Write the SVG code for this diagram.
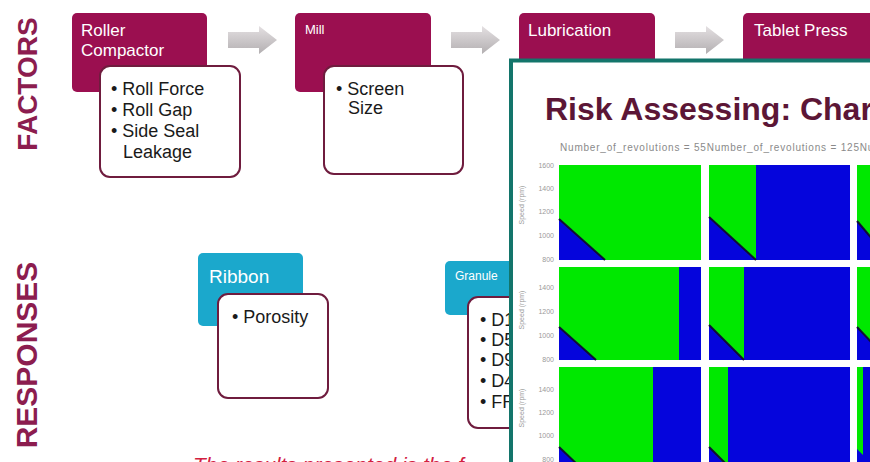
<svg xmlns="http://www.w3.org/2000/svg" width="870" height="462" viewBox="0 0 870 462">
<defs>
<style>
.side{font-family:"Liberation Sans",Arial,sans-serif;font-weight:bold;fill:#8c1d4f;text-anchor:middle;}
.step{fill:#9b0f50;}
.resp{fill:#1ba8cc;}
.head{font-family:"Liberation Sans",Arial,sans-serif;fill:#ffffff;}
.card{fill:#ffffff;stroke:#6f1c3e;stroke-width:2;}
.item{font-family:"Liberation Sans",Arial,sans-serif;font-size:18px;fill:#1a1a1a;}
.flow{fill:url(#flowGrad);}
.hi{fill:#00e800;}
.lo{fill:#0505dc;}
.edge{stroke:#101030;stroke-width:2;fill:none;}
.tick{font-family:"Liberation Sans",Arial,sans-serif;font-size:7px;fill:#9a9a9a;text-anchor:end;}
.axis{font-family:"Liberation Sans",Arial,sans-serif;font-size:7px;fill:#9a9a9a;text-anchor:middle;}
</style>
<linearGradient id="flowGrad" x1="0" y1="0" x2="0" y2="1">
<stop offset="0" stop-color="#e4e0e2"/>
<stop offset="1" stop-color="#b3afb1"/>
</linearGradient>
<clipPath id="insetClip"><rect x="513" y="62" width="360" height="402"/></clipPath>
</defs>

<rect width="870" height="462" fill="#ffffff"/>

<!-- row headings -->
<text class="side" font-size="28" transform="translate(37,84) rotate(-90)">FACTORS</text>
<text class="side" font-size="30" transform="translate(37,355) rotate(-90)">RESPONSES</text>

<!-- process flow arrows -->
<g id="connectors">
<polygon class="flow" points="228,32 259,32 259,26 277,40 259,54 259,48 228,48"/>
<polygon class="flow" points="228,32 259,32 259,26 277,40 259,54 259,48 228,48" transform="translate(223,0)"/>
<polygon class="flow" points="228,32 259,32 259,26 277,40 259,54 259,48 228,48" transform="translate(447,0)"/>
</g>

<!-- process steps -->
<g id="roller-compactor">
<rect class="step" x="72" y="13" width="135" height="79" rx="5"/>
<text class="head" font-size="17" x="81" y="36">Roller</text>
<text class="head" font-size="17" x="81" y="56">Compactor</text>
<rect class="card" x="100" y="66" width="140" height="111" rx="10"/>
<text class="item" x="111" y="95">• Roll Force</text>
<text class="item" x="111" y="116">• Roll Gap</text>
<text class="item" x="111" y="137">• Side Seal</text>
<text class="item" x="123" y="158">Leakage</text>
</g>

<g id="mill">
<rect class="step" x="295" y="13" width="136" height="79" rx="5"/>
<text class="head" font-size="13" x="305" y="34">Mill</text>
<rect class="card" x="324" y="66" width="139" height="108" rx="10"/>
<text class="item" x="336" y="95">• Screen</text>
<text class="item" x="348" y="114">Size</text>
</g>

<g id="lubrication">
<rect class="step" x="519" y="13" width="136" height="79" rx="5"/>
<text class="head" font-size="17" x="528" y="36">Lubrication</text>
</g>

<g id="tablet-press">
<rect class="step" x="743" y="13" width="140" height="79" rx="5"/>
<text class="head" font-size="17" x="754" y="36">Tablet Press</text>
</g>

<!-- responses -->
<g id="ribbon">
<rect class="resp" x="198" y="253" width="105" height="73" rx="5"/>
<text class="head" font-size="19" x="209" y="283">Ribbon</text>
<rect class="card" x="218" y="294" width="110" height="104" rx="10"/>
<text class="item" x="232" y="323">• Porosity</text>
</g>

<g id="granule">
<rect class="resp" x="445" y="261" width="90" height="54" rx="5"/>
<text class="head" font-size="12" x="455" y="280">Granule</text>
<rect class="card" x="468" y="297" width="110" height="131" rx="10"/>
<text class="item" x="480" y="326">• D10</text>
<text class="item" x="480" y="346">• D50</text>
<text class="item" x="480" y="366">• D90</text>
<text class="item" x="480" y="387">• D43</text>
<text class="item" x="480" y="408">• FRI</text>
</g>

<text x="193" y="472" font-family="Liberation Sans, Arial, sans-serif" font-size="21" font-style="italic" fill="#d2203f">The results presented is the f</text>

<!-- risk map panel -->
<g id="risk-panel">
<rect x="511" y="60.5" width="380" height="420" fill="#ffffff" stroke="#13756b" stroke-width="4"/>
<g clip-path="url(#insetClip)">
<text x="545" y="120" font-family="Liberation Sans, Arial, sans-serif" font-size="32" font-weight="bold" fill="#5c1636">Risk Assessing: Char</text>
<text x="560" y="151" font-family="Liberation Sans, Arial, sans-serif" font-size="10" letter-spacing="0.8" fill="#8a8a8a">Number_of_revolutions = 55Number_of_revolutions = 125Nu</text>

<!-- row 1 -->
<rect class="lo" x="559" y="165" width="142" height="95"/>
<polygon class="hi" points="559,165 701,165 701,260 605,260 559,219"/>
<line class="edge" x1="559" y1="219" x2="605" y2="260"/>
<rect class="lo" x="709" y="165" width="141" height="95"/>
<polygon class="hi" points="709,165 756,165 756,260 709,217"/>
<line class="edge" x1="709" y1="217" x2="756" y2="260"/>
<rect class="lo" x="857" y="165" width="40" height="95"/>
<polygon class="hi" points="857,165 897,165 897,260 890,260 857,221"/>
<line class="edge" x1="857" y1="221" x2="890" y2="260"/>

<!-- row 2 -->
<rect class="lo" x="559" y="267" width="142" height="93"/>
<polygon class="hi" points="559,267 679,267 679,360 596,360 559,327"/>
<line class="edge" x1="559" y1="327" x2="596" y2="360"/>
<rect class="lo" x="709" y="267" width="141" height="93"/>
<polygon class="hi" points="709,267 744,267 744,360 709,325"/>
<line class="edge" x1="709" y1="325" x2="744" y2="360"/>
<rect class="lo" x="857" y="267" width="40" height="93"/>
<polygon class="hi" points="857,267 876,267 876,347 857,327"/>
<line class="edge" x1="857" y1="327" x2="876" y2="347"/>

<!-- row 3 -->
<rect class="lo" x="559" y="367" width="142" height="100"/>
<polygon class="hi" points="559,367 653,367 653,467 580,467 559,447"/>
<line class="edge" x1="559" y1="447" x2="580" y2="467"/>
<rect class="lo" x="709" y="367" width="141" height="100"/>
<polygon class="hi" points="709,367 728,367 728,467 727,467 709,447"/>
<line class="edge" x1="709" y1="447" x2="727" y2="465"/>
<rect class="lo" x="857" y="367" width="40" height="100"/>
<polygon class="hi" points="857,367 863,367 863,455 857,449"/>

<!-- tick labels -->
<text class="tick" x="554" y="168">1600</text>
<text class="tick" x="554" y="191">1400</text>
<text class="tick" x="554" y="214">1200</text>
<text class="tick" x="554" y="238">1000</text>
<text class="tick" x="554" y="262">800</text>
<text class="tick" x="554" y="290">1400</text>
<text class="tick" x="554" y="314">1200</text>
<text class="tick" x="554" y="338">1000</text>
<text class="tick" x="554" y="362">800</text>
<text class="tick" x="554" y="392">1400</text>
<text class="tick" x="554" y="415">1200</text>
<text class="tick" x="554" y="438">1000</text>
<text class="tick" x="554" y="462">800</text>
<text class="axis" transform="translate(524,205) rotate(-90)">Speed (rpm)</text>
<text class="axis" transform="translate(524,310) rotate(-90)">Speed (rpm)</text>
<text class="axis" transform="translate(524,408) rotate(-90)">Speed (rpm)</text>
</g>
</g>
</svg>
